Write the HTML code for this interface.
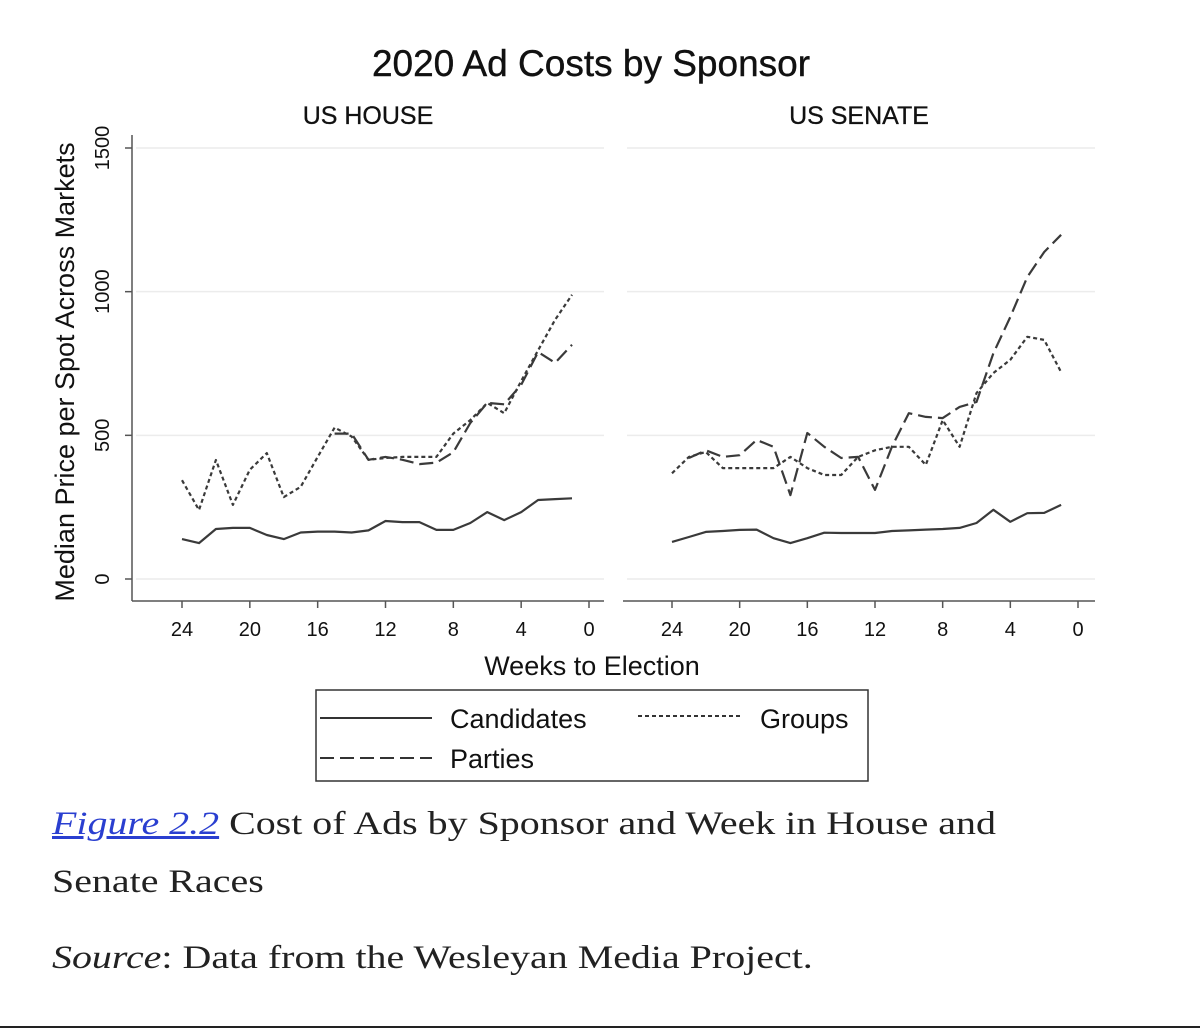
<!DOCTYPE html>
<html><head><meta charset="utf-8"><style>
body{margin:0;background:#fff;width:1200px;height:1030px;overflow:hidden;position:relative;font-family:"Liberation Sans",sans-serif}
.cap{position:absolute;left:52px;font-family:"Liberation Serif",serif;font-size:33px;color:#222;white-space:nowrap;transform:scaleX(1.21);transform-origin:0 0}
</style></head><body>
<svg id="chart" width="1200" height="790" style="position:absolute;left:0;top:0" font-family="Liberation Sans, sans-serif">
<text x="591" y="76" font-size="37" text-anchor="middle" fill="#111" stroke="#111" stroke-width="0.4">2020 Ad Costs by Sponsor</text>
<text x="368" y="124" font-size="25" text-anchor="middle" fill="#111" stroke="#111" stroke-width="0.3">US HOUSE</text>
<text x="859" y="124" font-size="25" text-anchor="middle" fill="#111" stroke="#111" stroke-width="0.3">US SENATE</text>
<text transform="translate(74,372) rotate(-90)" font-size="27" text-anchor="middle" fill="#111">Median Price per Spot Across Markets</text>
<text x="592" y="675" font-size="27" text-anchor="middle" fill="#111">Weeks to Election</text>
<g id="plot"></g>
<g>
<rect x="316" y="690" width="552" height="91" fill="none" stroke="#333" stroke-width="1.5"/>
<line x1="320" y1="718" x2="432" y2="718" stroke="#333" stroke-width="2"/>
<text x="450" y="728" font-size="27" fill="#111">Candidates</text>
<line x1="638" y1="716" x2="742" y2="716" stroke="#333" stroke-width="2" stroke-dasharray="4,3"/>
<text x="760" y="728" font-size="27" fill="#111">Groups</text>
<line x1="320" y1="758" x2="432" y2="758" stroke="#333" stroke-width="2" stroke-dasharray="14,6"/>
<text x="450" y="768" font-size="27" fill="#111">Parties</text>
</g>
</svg>
<div class="cap" style="top:806px"><span style="font-style:italic;color:#2a3fd0;text-decoration:underline">Figure 2.2</span> Cost of Ads by Sponsor and Week in House and</div>
<div class="cap" style="top:864px">Senate Races</div>
<div class="cap" style="top:940px"><i>Source</i>: Data from the Wesleyan Media Project.</div>
<div style="position:absolute;left:0;top:1026px;width:1200px;height:2px;background:#222"></div>
<script>
const weeks=[24,23,22,21,20,19,18,17,16,15,14,13,12,11,10,9,8,7,6,5,4,3,2,1];
const partyWeeksHouse=[15,14,13,12,11,10,9,8,7,6,5,4,3,2,1];
const partyWeeksSenate=[23,22,21,20,19,18,17,16,15,14,13,12,11,10,9,8,7,6,5,4,3,2,1];
const houseCandidates=[139,125,174,178,178,153,139,162,165,165,162,169,202,198,198,171,171,195,233,205,233,275,278,281];
const houseGroups=[344,240,414,258,380,438,285,321,425,527,496,415,421,425,425,425,506,553,613,577,689,796,902,989];
const houseParties=[506,506,415,425,415,400,405,441,543,613,608,676,790,752,815];
const senateCandidates=[129,146,164,167,171,172,142,125,142,161,160,160,160,167,169,172,174,178,195,241,199,229,230,258];
const senateGroups=[368,425,442,386,386,386,386,425,386,362,362,425,448,460,460,397,553,460,647,717,763,843,832,720];
const senateParties=[421,448,425,431,484,460,292,508,460,421,425,310,460,577,564,560,599,616,786,912,1051,1138,1198];
const xTicks=[24,20,16,12,8,4,0];
const yTicks=[0,500,1000,1500];
const NS='http://www.w3.org/2000/svg';
const g=document.getElementById('plot');
function y(v){return 579-v*(431/1500);}
function mk(t,a){const e=document.createElementNS(NS,t);for(const k in a)e.setAttribute(k,a[k]);g.appendChild(e);return e;}
const panels=[
 {name:'house',x0:132,x1:604,w24:182,w0:589,c:houseCandidates,gr:houseGroups,p:houseParties,pw:partyWeeksHouse},
 {name:'senate',x0:623,x1:1095,w24:672,w0:1078,c:senateCandidates,gr:senateGroups,p:senateParties,pw:partyWeeksSenate}];
panels.forEach((P,i)=>{
 const x=w=>P.w0+(P.w24-P.w0)*w/24;
 yTicks.forEach(t=>{
  const l=mk('line',{x1:P.x0+4,x2:P.x1,y1:y(t),y2:y(t),stroke:'#ececec','stroke-width':1.5});
  
  
 });
 const ax=mk('line',{x1:P.x0,x2:P.x1,y1:601,y2:601,stroke:'#555','stroke-width':1.5});
 
 
 xTicks.forEach(t=>{
  mk('line',{x1:x(t),x2:x(t),y1:601,y2:608,stroke:'#555','stroke-width':1.5});
  const tx=mk('text',{x:x(t),y:636,'font-size':20,'text-anchor':'middle',fill:'#111'});
  tx.textContent=t;
  
  
 });
 if(i===0){
  const ya=mk('line',{x1:132,x2:132,y1:135,y2:601,stroke:'#555','stroke-width':1.5});
  
  
  yTicks.forEach(t=>{
   mk('line',{x1:125,x2:132,y1:y(t),y2:y(t),stroke:'#555','stroke-width':1.5});
   const tx=mk('text',{transform:`translate(109,${y(t)}) rotate(-90)`,'font-size':20,'text-anchor':'middle',fill:'#111'});
   tx.textContent=t;
   
   
  });
 }
 const series=[[weeks,P.c,null,'candidates'],[weeks,P.gr,'4,3','groups'],[P.pw,P.p,'14,6','parties']];
 series.forEach(([ws,vs,dash,nm])=>{
  const pts=ws.map((w,k)=>x(w).toFixed(1)+','+y(vs[k]).toFixed(1)).join(' ');
  const a={points:pts,fill:'none',stroke:'#3a3a3a','stroke-width':2.2,'stroke-linejoin':'round'};
  if(dash)a['stroke-dasharray']=dash;
  const pl=mk('polyline',a);
  
  
 });
});
</script>
</body></html>
